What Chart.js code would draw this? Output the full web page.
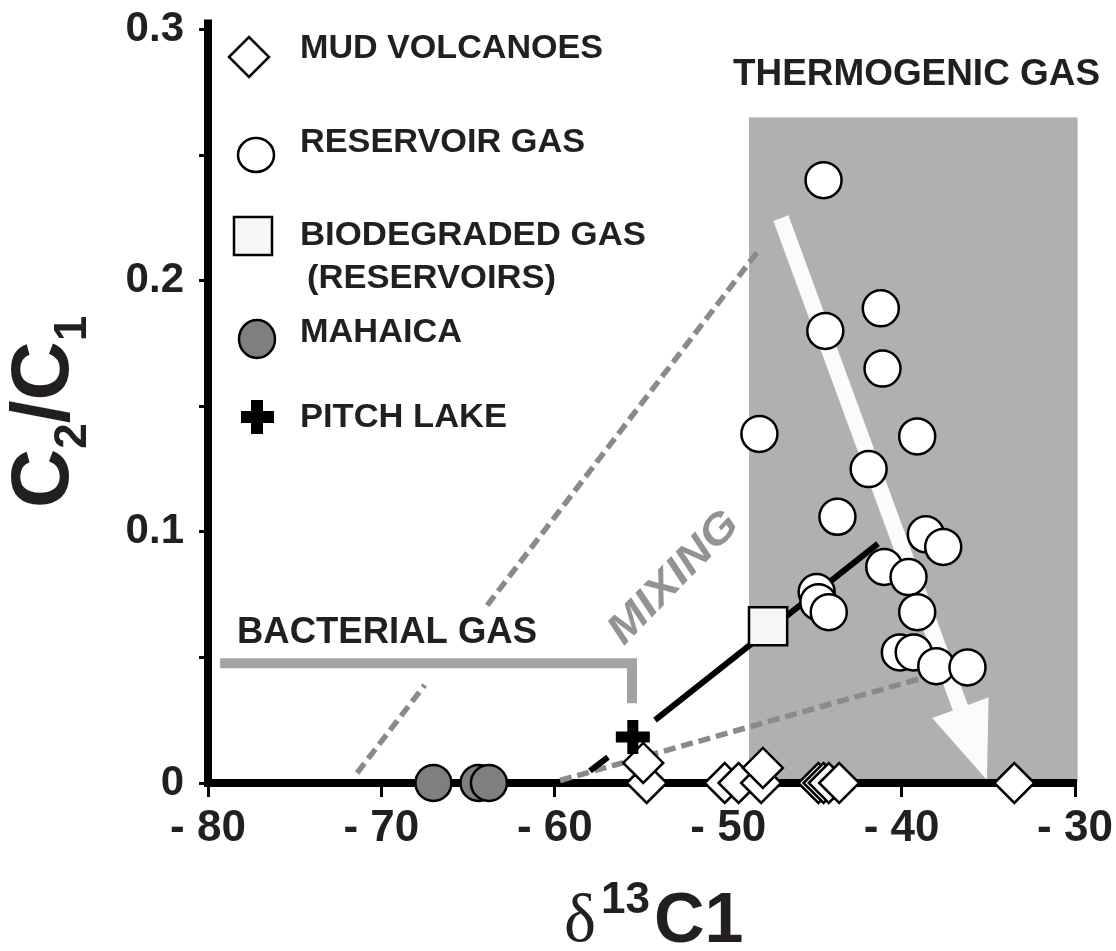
<!DOCTYPE html>
<html>
<head>
<meta charset="utf-8">
<script src="https://cdn.jsdelivr.net/npm/chart.js@4.4.0/dist/chart.umd.min.js"></script>
<style>
  html, body { margin: 0; padding: 0; background: #fff; }
</style>
</head>
<body>
<canvas id="plot" width="1116" height="951"></canvas>
<script>
// d13C1 (permil) vs C2/C1 ratio

// mud volcanoes (diamonds)
const mudX = [-54.7, -54.9, -50.2, -49.4, -48.1, -48.0, -44.8, -44.5, -44.2, -43.6, -33.5];
const mudY = [0, 0.008, 0, 0, 0, 0.006, 0, 0, 0, 0, 0];

// reservoir gas (white circles)
const resX = [-44.5, -41.2, -44.4, -41.1, -48.2, -39.1, -41.9, -43.7, -38.6, -37.6,
              -41.0, -39.6, -44.9, -44.8, -44.2, -39.1, -40.1, -39.3, -38.0, -36.2];
const resY = [0.240, 0.189, 0.180, 0.165, 0.139, 0.138, 0.125, 0.106, 0.099, 0.094,
              0.086, 0.082, 0.076, 0.072, 0.068, 0.068, 0.052, 0.052, 0.0465, 0.046];

// biodegraded gas (reservoirs)
const bioX = [-47.7];
const bioY = [0.0624];

// Mahaica
const mahX = [-67.0, -64.4, -63.8];
const mahY = [0, 0, 0];

// Pitch Lake
const pitchX = [-55.5];
const pitchY = [0.0183];

// guide lines (data units)
const mixUpperX = [-71.4, -67.5, -63.9, -48.2];
const mixUpperY = [0.004, 0.039, 0.0707, 0.2125];
const mixLowerX = [-59.7, -38.7];
const mixLowerY = [0.001, 0.042];
const blackX = [-57.97, -56.93, -54.22, -41.36];
const blackY = [0.0048, 0.0103, 0.025, 0.0953];
const bactX = [-79.3, -55.55, -55.55];
const bactY = [0.0477, 0.0477, 0.0318];

// thermogenic field and trend arrow
const thermoBox = { x0: -48.8, x1: -29.85, y0: 0, y1: 0.265 };
const arrowFrom = { x: -46.96, y: 0.2249 };
const arrowTo = { x: -35.08, y: 0.0012 };

const xTicks = [-80, -70, -60, -50, -40, -30];
const yTickLabels = ['0', '0.1', '0.2', '0.3'];

const pts = (xs, ys) => xs.map((x, i) => ({ x: x, y: ys[i] }));

const INK = '#231f20';
const FONT = '"Liberation Sans", Arial, sans-serif';
const DASH_GREY = '#8a8a8a';

function label(ctx, s, x, y, w, size, color, opts) {
  opts = opts || {};
  ctx.save();
  ctx.font = (opts.italic ? 'italic ' : '') + 'bold ' + size + 'px ' + FONT;
  ctx.fillStyle = color;
  ctx.textBaseline = 'middle';
  ctx.textAlign = 'left';
  const m = ctx.measureText(s).width;
  ctx.translate(x, y);
  if (opts.rotate) ctx.rotate(opts.rotate);
  const k = w ? w / m : 1;
  ctx.scale(k, 1);
  ctx.fillText(s, opts.center ? -m / 2 : 0, 0);
  ctx.restore();
}

const decor = {
  id: 'decor',
  beforeDraw(chart) {
    const ctx = chart.ctx;
    const xs = chart.scales.x, ys = chart.scales.y;
    // thermogenic box
    const bx0 = xs.getPixelForValue(thermoBox.x0), bx1 = xs.getPixelForValue(thermoBox.x1);
    const by0 = ys.getPixelForValue(thermoBox.y0), by1 = ys.getPixelForValue(thermoBox.y1);
    ctx.save();
    ctx.fillStyle = '#b0b0b0';
    ctx.fillRect(bx0, by1, bx1 - bx0, by0 - by1);
    // white arrow
    const sx = xs.getPixelForValue(arrowFrom.x), sy = ys.getPixelForValue(arrowFrom.y);
    const tx = xs.getPixelForValue(arrowTo.x), ty = ys.getPixelForValue(arrowTo.y);
    const L = Math.hypot(tx - sx, ty - sy);
    const ux = (tx - sx) / L, uy = (ty - sy) / L;
    const nx = -uy, ny = ux;
    const headLen = 77, headHalf = 30, shaft = 8;
    const bx = tx - ux * headLen, byy = ty - uy * headLen;
    ctx.fillStyle = '#fbfbfb';
    ctx.beginPath();
    ctx.moveTo(sx + nx * shaft, sy + ny * shaft);
    ctx.lineTo(bx + nx * shaft, byy + ny * shaft);
    ctx.lineTo(bx + nx * headHalf, byy + ny * headHalf);
    ctx.lineTo(tx, ty);
    ctx.lineTo(bx - nx * headHalf, byy - ny * headHalf);
    ctx.lineTo(bx - nx * shaft, byy - ny * shaft);
    ctx.lineTo(sx - nx * shaft, sy - ny * shaft);
    ctx.closePath();
    ctx.fill();
    // y axis runs a little past 0.3
    ctx.fillStyle = '#000';
    ctx.fillRect(chart.chartArea.left - 4, chart.chartArea.top - 10, 8, 12);
    ctx.restore();
  },
  afterDraw(chart) {
    const ctx = chart.ctx;
    // field labels
    label(ctx, 'THERMOGENIC GAS', 733, 75, 367, 36, INK);
    label(ctx, 'BACTERIAL GAS', 237, 633, 300, 36, INK);
    label(ctx, 'MIXING', 674, 578, 168, 42, '#939393', { italic: true, rotate: -0.8, center: true });

    // legend
    ctx.save();
    ctx.lineWidth = 2.5;
    ctx.strokeStyle = '#000';
    // diamond
    ctx.fillStyle = '#fff';
    ctx.beginPath();
    ctx.moveTo(229, 57); ctx.lineTo(249, 37); ctx.lineTo(269, 57); ctx.lineTo(249, 77);
    ctx.closePath(); ctx.fill(); ctx.stroke();
    // circle
    ctx.beginPath(); ctx.ellipse(256, 155, 18, 17, 0, 0, Math.PI * 2); ctx.fill(); ctx.stroke();
    // square
    ctx.fillStyle = '#f6f6f6';
    ctx.fillRect(234, 217, 38, 38); ctx.strokeRect(234, 217, 38, 38);
    // Mahaica
    ctx.fillStyle = '#7f7f7f';
    ctx.beginPath(); ctx.ellipse(257, 339, 18, 19, 0, 0, Math.PI * 2); ctx.fill(); ctx.stroke();
    // cross
    ctx.fillStyle = '#000';
    ctx.fillRect(241, 411, 33, 12);
    ctx.fillRect(251, 400, 12, 34);
    ctx.restore();

    label(ctx, 'MUD VOLCANOES', 300, 49, 303, 34, INK);
    label(ctx, 'RESERVOIR GAS', 300, 143, 285, 34, INK);
    label(ctx, 'BIODEGRADED GAS', 300, 236, 346, 34, INK);
    label(ctx, '(RESERVOIRS)', 307, 279, 249, 34, INK);
    label(ctx, 'MAHAICA', 300, 333, 162, 34, INK);
    label(ctx, 'PITCH LAKE', 300, 418, 207, 34, INK);

    // y axis title: C2/C1
    ctx.save();
    ctx.fillStyle = INK;
    ctx.textBaseline = 'alphabetic';
    ctx.translate(68, 508);
    ctx.rotate(-Math.PI / 2);
    let px = 0;
    const big = 'bold 82px ' + FONT, small = 'bold 46px ' + FONT;
    const parts = [['C', big, 0], ['2', small, 18], ['/', big, 0], ['C', big, 0], ['1', small, 18]];
    for (const p of parts) {
      ctx.font = p[1];
      ctx.fillText(p[0], px, p[2]);
      px += ctx.measureText(p[0]).width;
    }
    ctx.restore();

    // x axis title: delta 13 C1
    ctx.save();
    ctx.fillStyle = INK;
    ctx.textBaseline = 'alphabetic';
    ctx.font = '68px "Liberation Serif", "DejaVu Serif", serif';
    ctx.fillText('\u03b4', 564, 941);
    ctx.font = 'bold 44px ' + FONT;
    ctx.fillText('13', 601, 913);
    ctx.font = 'bold 70px ' + FONT;
    ctx.fillText('C1', 654, 942);
    ctx.restore();
  }
};

const lineBase = { type: 'scatter', showLine: true, pointRadius: 0, fill: false, clip: false, order: 5 };

new Chart(document.getElementById('plot'), {
  type: 'scatter',
  data: {
    datasets: [
      { label: 'PITCH LAKE', data: pts(pitchX, pitchY), pointStyle: 'cross', pointRadius: 17,
        borderColor: '#000', borderWidth: 11, clip: false, order: 0 },
      { label: 'BIODEGRADED GAS', data: pts(bioX, bioY), pointStyle: 'rect', pointRadius: 27,
        backgroundColor: '#f6f6f6', borderColor: '#000', borderWidth: 2.5, clip: false, order: 1 },
      { label: 'RESERVOIR GAS', data: pts(resX, resY), pointStyle: 'circle', pointRadius: 18,
        backgroundColor: '#fff', borderColor: '#000', borderWidth: 2.5, clip: false, order: 2 },
      { label: 'MUD VOLCANOES', data: pts(mudX, mudY), pointStyle: 'rectRot', pointRadius: 20,
        backgroundColor: '#fff', borderColor: '#000', borderWidth: 2.5, clip: false, order: 3 },
      { label: 'MAHAICA', data: pts(mahX, mahY), pointStyle: 'circle', pointRadius: 18,
        backgroundColor: '#7f7f7f', borderColor: '#000', borderWidth: 2.5, clip: false, order: 3 },
      Object.assign({}, lineBase, { label: 'mixing trend', data: pts(blackX, blackY),
        borderColor: '#000', borderWidth: 6,
        segment: { borderColor: c => c.p0DataIndex === 1 ? 'rgba(0,0,0,0)' : '#000' } }),
      Object.assign({}, lineBase, { label: 'mixing upper', data: pts(mixUpperX, mixUpperY),
        borderColor: DASH_GREY, borderWidth: 5.5, borderDash: [12, 6],
        segment: { borderColor: c => c.p0DataIndex === 1 ? 'rgba(0,0,0,0)' : DASH_GREY } }),
      Object.assign({}, lineBase, { label: 'mixing lower', data: pts(mixLowerX, mixLowerY),
        borderColor: DASH_GREY, borderWidth: 5.5, borderDash: [12, 6] }),
      Object.assign({}, lineBase, { label: 'bacterial', data: pts(bactX, bactY),
        borderColor: '#a3a3a3', borderWidth: 10, borderJoinStyle: 'miter', borderCapStyle: 'butt' })
    ]
  },
  options: {
    responsive: false,
    animation: false,
    events: [],
    layout: { padding: { left: 0, top: 28, right: 41, bottom: 0 } },
    plugins: { legend: { display: false }, tooltip: { enabled: false } },
    scales: {
      x: {
        type: 'linear', min: -80, max: -30,
        border: { display: true, color: '#000', width: 8 },
        grid: { drawOnChartArea: false, drawTicks: true, tickLength: 14, color: '#000', lineWidth: 3 },
        afterBuildTicks: s => { s.ticks = xTicks.map(v => ({ value: v })); },
        ticks: {
          color: INK, padding: 5, maxRotation: 0, autoSkip: false,
          font: { family: FONT, weight: 'bold', size: 44 },
          callback: v => '- ' + Math.abs(v)
        },
        afterFit: s => { s.height = 168; s.paddingLeft = 0; s.paddingRight = 0; }
      },
      y: {
        type: 'linear', min: 0, max: 0.3,
        border: { display: true, color: '#000', width: 8 },
        grid: { drawOnChartArea: false, drawTicks: true, tickLength: 9, color: '#000', lineWidth: 3 },
        ticks: {
          stepSize: 0.05, color: INK, padding: 15,
          font: { family: FONT, weight: 'bold', size: 42 },
          callback: v => {
            const i = Math.round(v * 10);
            return Math.abs(v * 10 - i) < 1e-6 ? yTickLabels[i] : '';
          }
        },
        afterFit: s => { s.width = 208; s.paddingTop = 0; s.paddingBottom = 0; }
      }
    }
  },
  plugins: [decor]
});
</script>
</body>
</html>
